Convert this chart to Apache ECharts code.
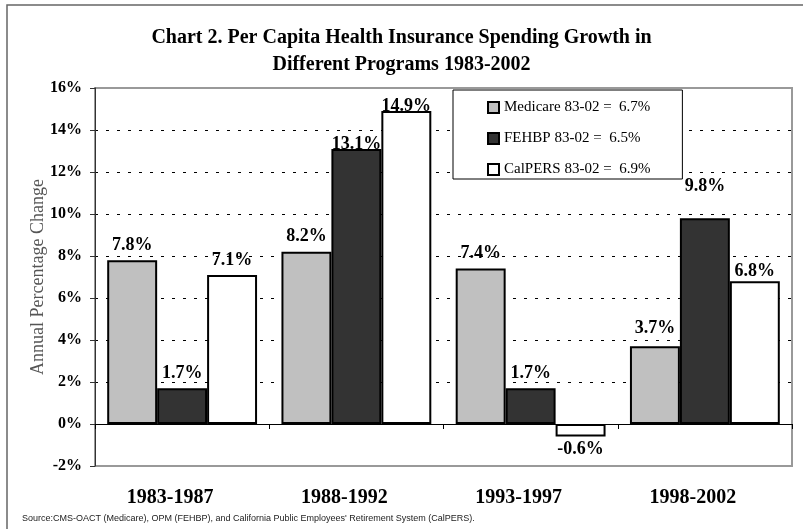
<!DOCTYPE html>
<html>
<head>
<meta charset="utf-8">
<script src="https://cdn.jsdelivr.net/npm/echarts@6/dist/echarts.min.js"></script>
<style>
  html, body { margin: 0; padding: 0; background: #fff; }
  #chart { width: 803px; height: 529px; }
</style>
</head>
<body>
<div id="chart"></div>
<script>
// periods and growth rates (percent per year)
var periods = ['1983-1987', '1988-1992', '1993-1997', '1998-2002'];
var medicare = [7.8, 8.2, 7.4, 3.7];
var fehbp = [1.7, 13.1, 1.7, 9.8];
var calpers = [7.1, 14.9, -0.6, 6.8];
var seriesNames = ['Medicare 83-02 =  6.7%', 'FEHBP 83-02 =  6.5%', 'CalPERS 83-02 =  6.9%'];

var serif = '"Liberation Serif", "Times New Roman", serif';

// a few labels sit closer / further from their bar in the original
var labelNudge = {
    '1-1': -4, '1-3': 23,
    '2-1': -4, '2-3': 1,
    '0-3': 9
};

var chart = echarts.init(document.getElementById('chart'), null, { renderer: 'canvas' });

function barLabel() {
    return {
        show: true,
        position: 'top',
        distance: 6,
        fontFamily: serif,
        fontWeight: 'bold',
        fontSize: 18,
        color: '#000',
        formatter: function (p) { return p.value.toFixed(1) + '%'; }
    };
}

function toData(arr, s) {
    return arr.map(function (v, i) {
        if (v < 0) {
            return { value: v, label: { position: 'bottom', distance: 4 } };
        }
        var d = labelNudge[s + '-' + i];
        if (d !== undefined) {
            return { value: v, label: { distance: d } };
        }
        return v;
    });
}

var option = {
    backgroundColor: '#fff',
    animation: false,
    title: [{
        text: 'Chart 2. Per Capita Health Insurance Spending Growth in\nDifferent Programs 1983-2002',
        left: 'center',
        top: 24,
        padding: 0,
        textStyle: {
            fontFamily: serif,
            fontWeight: 'bold',
            fontSize: 20,
            lineHeight: 27,
            align: 'center',
            color: '#000'
        }
    }, {
        text: "Source:CMS-OACT (Medicare), OPM (FEHBP), and California Public Employees' Retirement System (CalPERS).",
        left: 22,
        top: 514,
        padding: 0,
        textStyle: {
            fontFamily: '"Liberation Sans", Arial, sans-serif',
            fontWeight: 'normal',
            fontSize: 9,
            color: '#222'
        }
    }],
    graphic: [{
        type: 'rect',
        shape: { x: 7, y: 5, width: 820, height: 560 },
        style: { fill: null, stroke: '#666', lineWidth: 1.5 },
        silent: true
    }],
    legend: {
        orient: 'vertical',
        left: 453,
        top: 90,
        padding: [10, 32, 2, 34],
        itemGap: 16,
        itemWidth: 11,
        itemHeight: 11,
        icon: 'rect',
        backgroundColor: '#fff',
        borderColor: '#000',
        borderWidth: 1,
        textStyle: {
            fontFamily: serif,
            fontSize: 15,
            lineHeight: 15,
            color: '#000'
        },
        data: seriesNames
    },
    grid: {
        left: 95,
        right: 11,
        top: 88,
        bottom: 63,
        containLabel: false,
        outerBoundsMode: 'none',
        show: true,
        borderColor: '#999',
        borderWidth: 2,
        backgroundColor: 'transparent'
    },
    xAxis: {
        type: 'category',
        data: periods,
        axisLine: { onZero: true, lineStyle: { color: '#000', width: 1 } },
        axisTick: { show: true, length: 5, lineStyle: { color: '#000' } },
        axisLabel: {
            margin: 22,
            padding: [0, 24, 0, 0],
            fontFamily: serif,
            fontWeight: 'bold',
            fontSize: 20,
            color: '#000'
        },
        splitLine: { show: false }
    },
    yAxis: {
        type: 'value',
        min: -2,
        max: 16,
        interval: 2,
        name: 'Annual Percentage Change',
        nameLocation: 'middle',
        nameGap: 48,
        nameRotate: 90,
        nameMoveOverlap: false,
        nameTextStyle: {
            fontFamily: serif,
            fontSize: 18,
            color: '#555'
        },
        axisLine: { show: true, lineStyle: { color: '#333', width: 1 } },
        axisTick: { show: true, length: 5, lineStyle: { color: '#333' } },
        axisLabel: {
            margin: 13,
            fontFamily: serif,
            fontWeight: 'bold',
            fontSize: 16,
            color: '#000',
            formatter: '{value}%'
        },
        splitLine: {
            show: true,
            showMinLine: false,
            showMaxLine: false,
            lineStyle: { color: '#000', width: 1, type: [3, 8] }
        }
    },
    series: [{
        name: seriesNames[0],
        type: 'bar',
        data: toData(medicare, 0),
        barGap: '0%',
        barCategoryGap: '14%',
        itemStyle: { color: '#c0c0c0', borderColor: '#000', borderWidth: 2 },
        label: barLabel()
    }, {
        name: seriesNames[1],
        type: 'bar',
        data: toData(fehbp, 1),
        barGap: '0%',
        barCategoryGap: '14%',
        itemStyle: { color: '#333333', borderColor: '#000', borderWidth: 2 },
        label: barLabel()
    }, {
        name: seriesNames[2],
        type: 'bar',
        data: toData(calpers, 2),
        barGap: '0%',
        barCategoryGap: '14%',
        itemStyle: { color: '#ffffff', borderColor: '#000', borderWidth: 2 },
        label: barLabel()
    }]
};

chart.setOption(option);
</script>
</body>
</html>
